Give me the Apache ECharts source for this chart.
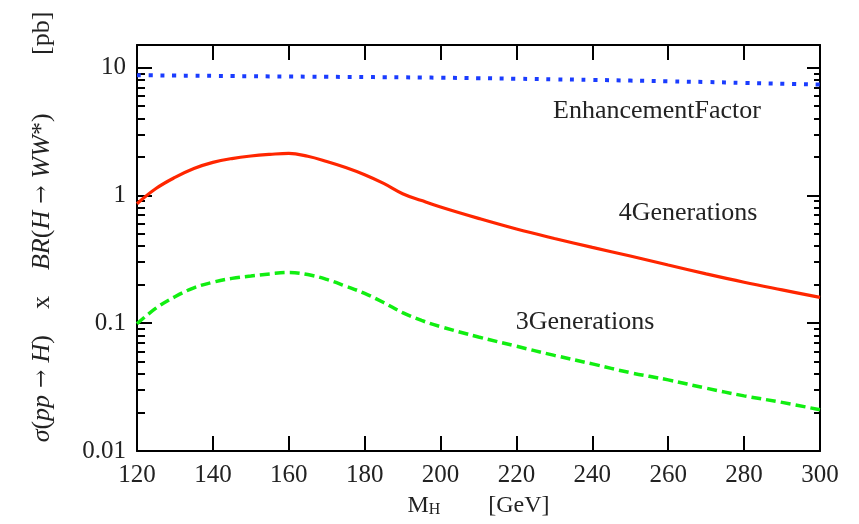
<!DOCTYPE html>
<html>
<head>
<meta charset="utf-8">
<script src="https://cdn.jsdelivr.net/npm/echarts@6/dist/echarts.min.js"></script>
<style>
  html, body { margin: 0; padding: 0; background: #fff; }
  #chart { width: 859px; height: 524px; }
</style>
</head>
<body>
<div id="chart"></div>
<script>
// Higgs mass points [GeV]
const mass = [120, 125, 130, 135, 140, 145, 150, 155, 160, 165, 170, 175, 180, 185, 190, 195, 200,
              210, 220, 230, 240, 250, 260, 270, 280, 290, 300];
// sigma x BR [pb]
const fourGen = [0.86, 1.13, 1.38, 1.62, 1.81, 1.94, 2.03, 2.09, 2.13, 2.02, 1.84, 1.65, 1.45, 1.24, 1.03, 0.91, 0.81,
                 0.66, 0.545, 0.46, 0.392, 0.335, 0.285, 0.243, 0.209, 0.182, 0.159];
const threeGen = [0.099, 0.131, 0.161, 0.189, 0.209, 0.224, 0.234, 0.243, 0.249, 0.24, 0.22, 0.195, 0.171, 0.145, 0.121, 0.105, 0.094,
                  0.078, 0.066, 0.056, 0.048, 0.041, 0.036, 0.031, 0.027, 0.024, 0.021];
const enhancement = [8.7, 8.68, 8.65, 8.63, 8.6, 8.57, 8.55, 8.52, 8.5, 8.48, 8.46, 8.44, 8.42, 8.4, 8.38, 8.35, 8.32,
                     8.25, 8.17, 8.08, 8.0, 7.9, 7.8, 7.7, 7.58, 7.47, 7.35];

const yMin = 0.01;
const yMax = 15;
const yLabels = ['0.01', '0.1', '1', '10'];

// tick positions in log10 space for the helper axes
const majorLog = [-2, -1, 0, 1];
const minorLog = [];
for (let p = -2; p <= 1; p++) {
    for (let k = 2; k <= 9; k++) {
        const v = k * Math.pow(10, p);
        if (v < yMax) minorLog.push(Math.log10(v));
    }
}

const font = 'Liberation Serif';
const black = '#000';

function tickAxis(position, values, len) {
    return {
        type: 'value',
        position: position,
        min: Math.log10(yMin),
        max: Math.log10(yMax),
        axisLine: { show: false, onZero: false },
        axisLabel: { show: false },
        splitLine: { show: false },
        axisTick: { show: true, inside: true, length: len, customValues: values, lineStyle: { color: black, width: 2 } }
    };
}

const chart = echarts.init(document.getElementById('chart'));
const option = {
    animation: false,
    backgroundColor: '#fff',
    grid: { left: 137, right: 39, top: 45, bottom: 73 },
    xAxis: [
        {
            type: 'value',
            min: 120,
            max: 300,
            interval: 20,
            position: 'bottom',
            axisLine: { onZero: false, lineStyle: { color: black, width: 2 } },
            axisTick: { inside: true, length: 15, lineStyle: { color: black, width: 2 } },
            axisLabel: { margin: 12, fontFamily: font, fontSize: 25, color: '#222' },
            splitLine: { show: false },
            name: '{m|M}{h|H}{s|}{g|[GeV]}',
            nameLocation: 'middle',
            nameGap: 42,
            nameTextStyle: {
                rich: {
                    m: { fontFamily: font, fontSize: 24, color: '#222' },
                    h: { fontFamily: font, fontSize: 16, color: '#222', verticalAlign: 'bottom', padding: [9, 0, 0, 0] },
                    s: { width: 48 },
                    g: { fontFamily: font, fontSize: 24, color: '#222' }
                }
            }
        },
        {
            type: 'value',
            min: 120,
            max: 300,
            interval: 20,
            position: 'top',
            axisLine: { onZero: false, lineStyle: { color: black, width: 2 } },
            axisTick: { inside: true, length: 15, lineStyle: { color: black, width: 2 } },
            axisLabel: { show: false },
            splitLine: { show: false }
        }
    ],
    yAxis: [
        {
            type: 'log',
            min: yMin,
            max: yMax,
            position: 'left',
            axisLine: { show: true, onZero: false, lineStyle: { color: black, width: 2 } },
            axisTick: { show: false },
            splitLine: { show: false },
            axisLabel: {
                margin: 11,
                fontFamily: font,
                fontSize: 25,
                color: '#222',
                formatter: function (v) {
                    const e = Math.log10(v);
                    if (Math.abs(e - Math.round(e)) > 1e-6) return '';
                    return yLabels[Math.round(e) + 2] || '';
                }
            }
        },
        tickAxis('left', majorLog, 15),
        tickAxis('left', minorLog, 8),
        Object.assign(tickAxis('right', majorLog, 13), { axisLine: { show: true, onZero: false, lineStyle: { color: black, width: 2 } } }),
        tickAxis('right', minorLog, 6)
    ],
    series: [
        {
            name: 'EnhancementFactor',
            type: 'line',
            xAxisIndex: 0,
            yAxisIndex: 0,
            data: mass.map((m, i) => [m, enhancement[i]]),
            showSymbol: false,
            smooth: 0.4,
            lineStyle: { color: '#1a3cff', width: 4, type: [4, 7.7], cap: 'butt' }
        },
        {
            name: '4Generations',
            type: 'line',
            xAxisIndex: 0,
            yAxisIndex: 0,
            data: mass.map((m, i) => [m, fourGen[i]]),
            showSymbol: false,
            smooth: 0.4,
            lineStyle: { color: '#ff2600', width: 3.2 }
        },
        {
            name: '3Generations',
            type: 'line',
            xAxisIndex: 0,
            yAxisIndex: 0,
            data: mass.map((m, i) => [m, threeGen[i]]),
            showSymbol: false,
            smooth: 0.4,
            lineStyle: { color: '#11ee11', width: 3.5, type: [10, 5], cap: 'butt' }
        }
    ],
    graphic: [
        {
            type: 'text', x: 657, y: 111,
            style: { text: 'EnhancementFactor', font: '26px "Liberation Serif"', fill: '#222', align: 'center', verticalAlign: 'middle' }
        },
        {
            type: 'text', x: 688, y: 213,
            style: { text: '4Generations', font: '26px "Liberation Serif"', fill: '#222', align: 'center', verticalAlign: 'middle' }
        },
        {
            type: 'text', x: 585, y: 322,
            style: { text: '3Generations', font: '26px "Liberation Serif"', fill: '#222', align: 'center', verticalAlign: 'middle' }
        },
        {
            type: 'text', x: 42, y: 227, rotation: Math.PI / 2,
            style: {
                text: '{i|σ}{r|(}{i|pp}{a| → }{i|H}{r|)}{r|    x    }{i|BR}{r|(}{i|H}{a| → }{i|WW}{r|*}{r|)}{r|         [pb]}',
                align: 'center',
                verticalAlign: 'middle',
                rich: {
                    i: { fontFamily: font, fontStyle: 'italic', fontSize: 26, fill: '#222' },
                    r: { fontFamily: font, fontSize: 26, fill: '#222' },
                    a: { fontFamily: 'DejaVu Serif', fontSize: 22, fill: '#222' }
                }
            }
        }
    ]
};
chart.setOption(option);
</script>
</body>
</html>
